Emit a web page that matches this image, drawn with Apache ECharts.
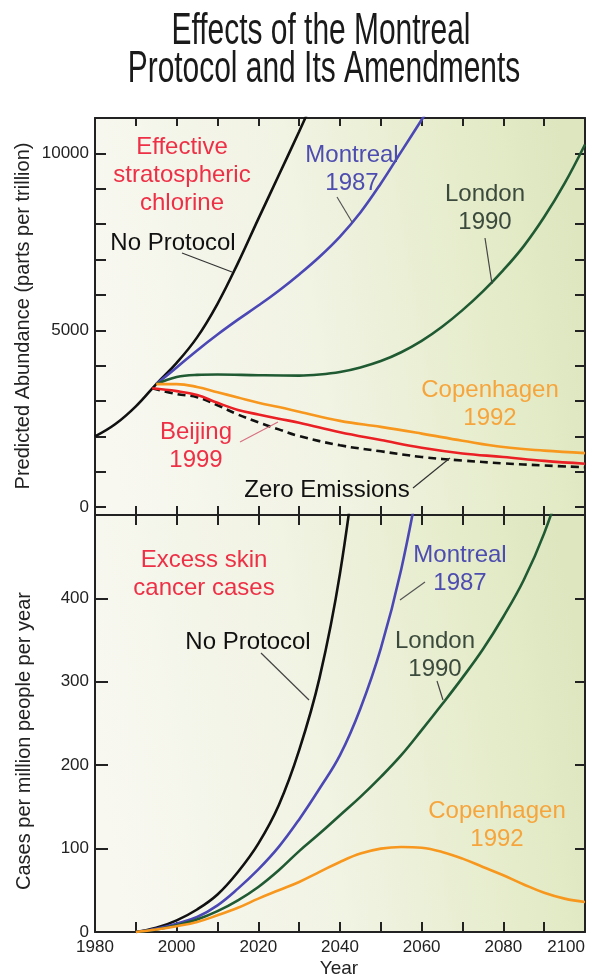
<!DOCTYPE html>
<html>
<head>
<meta charset="utf-8">
<script src="https://cdn.jsdelivr.net/npm/echarts@6/dist/echarts.min.js"></script>
<style>html,body{margin:0;padding:0;background:#fff}#c{width:595px;height:979px}</style>
</head>
<body>
<div id="c"></div>
<script>
// ---------- DATA ----------
const yearTicks = [1980, 2000, 2020, 2040, 2060, 2080, 2100];
const chlorineTickLabels = [0, 5000, 10000];
const casesTickLabels = [0, 100, 200, 300, 400];

// Effective stratospheric chlorine (ppt)
const chlorineNoProtocol = [[1980,2000],[1985,2350],[1990,2850],[1995,3480],[2000,4080],[2005,4800],[2010,5750],[2015,6900],[2020,8150],[2025,9380],[2030,10620],[2035,11900]];
const chlorineMontreal = [[1995,3480],[2000,3950],[2005,4430],[2010,4880],[2015,5300],[2020,5700],[2025,6120],[2030,6580],[2035,7080],[2040,7650],[2045,8330],[2050,9150],[2055,10050],[2060,10950],[2065,11850]];
const chlorineLondon = [[1995,3480],[2000,3680],[2005,3740],[2010,3750],[2020,3730],[2030,3720],[2035,3750],[2040,3820],[2045,3950],[2050,4130],[2055,4380],[2060,4700],[2065,5100],[2070,5570],[2075,6100],[2080,6700],[2085,7380],[2090,8200],[2095,9150],[2100,10250]];
const chlorineCopenhagen = [[1995,3480],[2000,3480],[2005,3400],[2010,3250],[2015,3100],[2020,2950],[2025,2830],[2030,2700],[2040,2440],[2050,2270],[2060,2080],[2070,1880],[2080,1700],[2090,1600],[2100,1530]];
const chlorineBeijing = [[1994,3360],[2000,3280],[2005,3170],[2010,2950],[2015,2750],[2020,2620],[2025,2500],[2030,2390],[2040,2120],[2050,1900],[2060,1680],[2070,1520],[2080,1420],[2090,1310],[2100,1230]];
const chlorineZero = [[1994,3360],[2000,3200],[2005,3110],[2010,2880],[2015,2620],[2020,2400],[2025,2200],[2030,2010],[2040,1750],[2050,1580],[2060,1420],[2070,1320],[2080,1240],[2090,1180],[2100,1130]];

// Excess skin cancer cases (per million people per year)
const casesNoProtocol = [[1990,0],[1995,5],[2000,14],[2005,27],[2010,45],[2015,72],[2020,106],[2025,152],[2030,218],[2035,305],[2040,430],[2045,610]];
const casesMontreal = [[1990,0],[1995,4],[2000,10],[2005,18],[2010,32],[2015,52],[2020,75],[2025,102],[2030,135],[2035,172],[2040,212],[2045,268],[2050,340],[2055,435],[2060,560]];
const casesLondon = [[1990,0],[1995,3],[2000,8],[2005,15],[2010,25],[2015,38],[2020,54],[2025,74],[2030,97],[2035,118],[2040,140],[2045,162],[2050,186],[2055,212],[2060,242],[2065,273],[2070,305],[2075,339],[2080,378],[2085,422],[2090,478],[2095,550]];
const casesCopenhagen = [[1990,0],[1995,3],[2000,7],[2005,12],[2010,20],[2015,29],[2020,40],[2025,50],[2030,60],[2035,72],[2040,84],[2045,94],[2050,100],[2055,102],[2060,101],[2065,96],[2070,88],[2075,78],[2080,68],[2085,57],[2090,47],[2095,40],[2100,36]];

// ---------- STYLE ----------
const FONT = '"Liberation Sans", Arial, Helvetica, sans-serif';
const C = {
  black: '#111111', blue: '#4b48b5', green: '#1f5a33', orange: '#f7971e', red: '#ea2024',
  txtRed: '#ee3046', txtBlue: '#4d4cb0', txtGreen: '#3b4a3c', txtOrange: '#f6a53c', axis: '#222'
};
const bg = {
  type: 'linear', x: 0, y: 0.6, x2: 1, y2: 0.4,
  colorStops: [
    {offset: 0, color: '#f8f8f1'},
    {offset: 0.45, color: '#f1f3e3'},
    {offset: 0.8, color: '#e5ecca'},
    {offset: 1, color: '#dde6bf'}
  ]
};

const chart = echarts.init(document.getElementById('c'), null, {renderer: 'canvas'});
const plain = v => String(v);

function xAxisDef(gridIndex, position, showLabel, tickLen) {
  return {
    type: 'value', gridIndex, position, min: 1980, max: 2100, interval: 10,
    axisLine: {show: true, onZero: false, lineStyle: {color: C.axis, width: 2}},
    axisTick: {show: true, inside: true, length: tickLen, lineStyle: {color: C.axis, width: 2}},
    axisLabel: showLabel ? {
      show: true, customValues: yearTicks, margin: 7, formatter: plain, alignMaxLabel: 'right',
      color: C.axis, fontSize: 17, fontFamily: FONT
    } : {show: false},
    splitLine: {show: false}
  };
}
function yAxisDef(gridIndex, position, min, max, ticks, labels, tickLen) {
  return {
    type: 'value', gridIndex, position, min, max,
    axisLine: {show: true, onZero: false, lineStyle: {color: C.axis, width: 2}},
    axisTick: {show: true, inside: true, length: tickLen, customValues: ticks, lineStyle: {color: C.axis, width: 2}},
    axisLabel: labels ? {show: true, customValues: labels, margin: 6, formatter: plain, color: C.axis, fontSize: 17, fontFamily: FONT} : {show: false},
    splitLine: {show: false}
  };
}
const chlorineTicks = [0,1000,2000,3000,4000,5000,6000,7000,8000,9000,10000,11000];
const casesTicks = [0,100,200,300,400,500];

function line(name, data, x, y, color, dashed) {
  return {
    name, type: 'line', xAxisIndex: x, yAxisIndex: y, data, smooth: 0.4,
    showSymbol: false, symbol: 'none', clip: true,
    lineStyle: {color, width: 2.6, type: dashed ? [8, 5] : 'solid'},
    z: 3
  };
}

function label(text, x, y, color, size) {
  return {
    type: 'text', x, y, z: 10,
    style: {text, fill: color, fontSize: size || 24, fontFamily: FONT, align: 'center', verticalAlign: 'middle', lineHeight: 28}
  };
}
function leader(x1, y1, x2, y2, color) {
  return {type: 'line', z: 10, shape: {x1, y1, x2, y2}, style: {stroke: color || '#333', lineWidth: 1.2}};
}

chart.setOption({
  animation: false,
  backgroundColor: '#ffffff',
  grid: [
    {left: 95, top: 118, width: 490, height: 397, show: true, backgroundColor: bg, borderWidth: 0, containLabel: false, outerBoundsMode: 'none'},
    {left: 95, top: 515, width: 490, height: 417, show: true, backgroundColor: bg, borderWidth: 0, containLabel: false, outerBoundsMode: 'none'}
  ],
  xAxis: [
    xAxisDef(0, 'bottom', false, 9),
    xAxisDef(0, 'top', false, 8),
    xAxisDef(1, 'top', false, 10),
    xAxisDef(1, 'bottom', true, 10)
  ],
  yAxis: [
    yAxisDef(0, 'left', -220, 11000, chlorineTicks, chlorineTickLabels, 11),
    yAxisDef(0, 'right', -220, 11000, chlorineTicks, null, 10),
    yAxisDef(1, 'left', 0, 500, casesTicks, casesTickLabels, 13),
    yAxisDef(1, 'right', 0, 500, casesTicks, null, 10)
  ],
  series: [
    line('No Protocol', chlorineNoProtocol, 0, 0, C.black),
    line('Montreal 1987', chlorineMontreal, 0, 0, C.blue),
    line('London 1990', chlorineLondon, 0, 0, C.green),
    line('Copenhagen 1992', chlorineCopenhagen, 0, 0, C.orange),
    line('Zero Emissions', chlorineZero, 0, 0, C.black, true),
    line('Beijing 1999', chlorineBeijing, 0, 0, C.red),
    line('No Protocol', casesNoProtocol, 3, 2, C.black),
    line('Montreal 1987', casesMontreal, 3, 2, C.blue),
    line('London 1990', casesLondon, 3, 2, C.green),
    line('Copenhagen 1992', casesCopenhagen, 3, 2, C.orange)
  ],
  graphic: [
    // title (condensed face emulated by horizontal scaling)
    {type: 'text', x: 321, y: 32, scaleX: 0.665, z: 10,
     style: {text: 'Effects of the Montreal', fill: '#1a1a1a', fontSize: 45, fontFamily: FONT, align: 'center', verticalAlign: 'middle'}},
    {type: 'text', x: 324, y: 70, scaleX: 0.665, z: 10,
     style: {text: 'Protocol and Its Amendments', fill: '#1a1a1a', fontSize: 45, fontFamily: FONT, align: 'center', verticalAlign: 'middle'}},
    // axis titles
    {type: 'text', x: 23, y: 316, rotation: Math.PI / 2, z: 10,
     style: {text: 'Predicted Abundance (parts per trillion)', fill: C.axis, fontSize: 20, fontFamily: FONT, align: 'center', verticalAlign: 'middle'}},
    {type: 'text', x: 24, y: 741, rotation: Math.PI / 2, z: 10,
     style: {text: 'Cases per million people per year', fill: C.axis, fontSize: 20, fontFamily: FONT, align: 'center', verticalAlign: 'middle'}},
    {type: 'text', x: 339, y: 969, z: 10,
     style: {text: 'Year', fill: C.axis, fontSize: 19, fontFamily: FONT, align: 'center', verticalAlign: 'middle'}},
    // top panel annotations
    label('Effective\nstratospheric\nchlorine', 182, 175, C.txtRed),
    label('No Protocol', 173, 243, C.black),
    leader(182, 253, 232, 272, '#333'),
    label('Montreal\n1987', 352, 169, C.txtBlue),
    leader(337, 197, 352, 222, '#555'),
    label('London\n1990', 485, 208, C.txtGreen),
    leader(485, 238, 492, 284, '#444'),
    label('Copenhagen\n1992', 490, 404, C.txtOrange),
    label('Beijing\n1999', 196, 446, C.txtRed),
    leader(240, 442, 278, 422, '#d87080'),
    label('Zero Emissions', 327, 490, C.black),
    leader(413, 488, 450, 458, '#333'),
    // bottom panel annotations
    label('Excess skin\ncancer cases', 204, 574, C.txtRed),
    label('No Protocol', 248, 642, C.black),
    leader(261, 653, 309, 700, '#444'),
    label('Montreal\n1987', 460, 569, C.txtBlue),
    leader(425, 582, 400, 600, '#555'),
    label('London\n1990', 435, 655, C.txtGreen),
    leader(437, 681, 443, 700, '#444'),
    label('Copenhagen\n1992', 497, 825, C.txtOrange)
  ]
});
</script>
</body>
</html>
